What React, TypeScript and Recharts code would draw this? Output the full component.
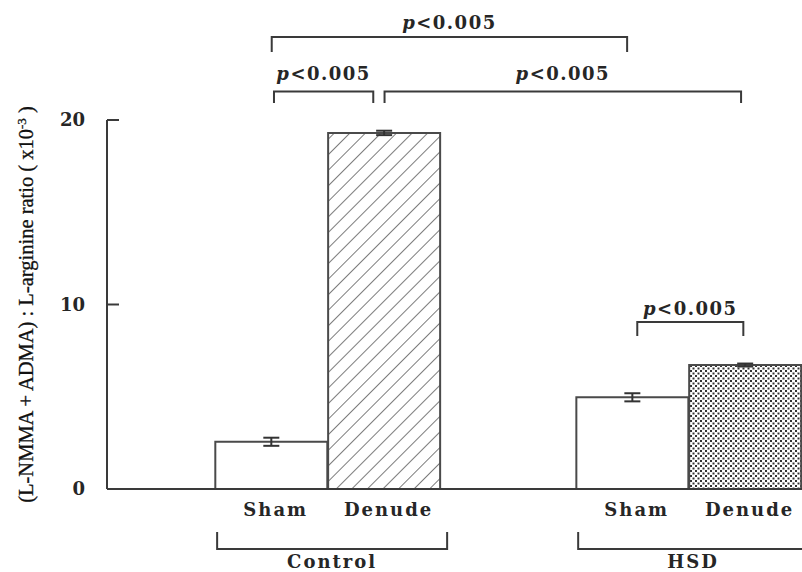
import React from 'react';
import { BarChart, Bar, Cell, XAxis, YAxis, ErrorBar, ReferenceLine } from 'recharts';

// values
const groups = ['Control', 'HSD'];
const conditions = ['Sham', 'Denude'];
const controlMeans = [2.56, 19.3];
const controlErr = [0.22, 0.12];
const hsdMeans = [4.97, 6.72];
const hsdErr = [0.22, 0.08];
const yTicks = [0, 10, 20];
// bar index pairs: 0 Control Sham, 1 Control Denude, 2 HSD Sham, 3 HSD Denude
const comparisons = [[0, 2], [0, 1], [1, 3], [2, 3]];
const pLabels = ['p<0.005', 'p<0.005', 'p<0.005', 'p<0.005'];

// layout
const GROUP_STEP = 3.2;
const X_DOMAIN: [number, number] = [-0.46, 5.7];
const INK = '#3a3a3a';
const TEXT = '#262626';
const BOLD_SERIF = '"DejaVu Serif", serif';
const fills = ['#ffffff', 'url(#hatch)', '#ffffff', 'url(#dots)'];
const bracketLevel = [24.5, 21.54, 21.54, 9.05];
const bracketLeg = [15, 11.5, 11.5, 14];
const bracketGap = [8, 12, 12, 7];
const bracketTrim = [[0, 0.05], [0.02, 0.1], [0, 0.04], [0.04, 0.02]];

const means = [controlMeans, hsdMeans];
const errs = [controlErr, hsdErr];
const rows = groups.flatMap((g, gi) =>
  conditions.map((c, ci) => ({
    group: g,
    condition: c,
    pos: gi * GROUP_STEP + ci + 1,
    value: means[gi][ci],
    err: errs[gi][ci],
  }))
);
const groupCenters = groups.map((_, gi) => gi * GROUP_STEP + 1.5);

const CondTick = ({ x, y, payload }: any) => {
  const row = rows.find((r) => Math.abs(r.pos - payload.value) < 1e-6);
  return (
    <text x={x + 4} y={y} dy={13} textAnchor="middle" fontFamily={BOLD_SERIF} fontWeight="bold"
      fontSize={18} letterSpacing={2} fill={TEXT}>
      {row ? row.condition : ''}
    </text>
  );
};

const GroupTick = ({ x, y, payload }: any) => {
  const gi = groupCenters.findIndex((c) => Math.abs(c - payload.value) < 1e-6);
  const left = x - 111;
  const right = x + 119;
  return (
    <g>
      <path d={`M${left},${y + 3}V${y + 20}H${right}V${y + 3}`} fill="none" stroke={INK} strokeWidth={2} />
      <text x={x + 4} y={y + 39} textAnchor="middle" fontFamily={BOLD_SERIF} fontWeight="bold"
        fontSize={18} letterSpacing={2} fill={TEXT}>
        {groups[gi]}
      </text>
    </g>
  );
};

const YTick = ({ x, y, payload }: any) => (
  <g>
    <line x1={x} x2={x + 12} y1={y} y2={y} stroke={INK} strokeWidth={2} />
    <text x={x - 22} y={y} dy={6} textAnchor="end" fontFamily={BOLD_SERIF} fontWeight="bold"
      fontSize={18} fill={TEXT}>
      {payload.value}
    </text>
  </g>
);

const YTitle = (props: any) => {
  const vb = props.viewBox || { x: 47, y: 120, width: 60, height: 369 };
  const cx = vb.x - 14;
  const cy = vb.y + vb.height / 2;
  return (
    <text x={cx} y={cy} transform={`rotate(-90 ${cx} ${cy})`} textAnchor="middle"
      fontFamily='"Liberation Serif", serif' fontSize={20.5} fill="#111" stroke="#111" strokeWidth={0.3}>
      (L-NMMA + ADMA) : L-arginine ratio ( x10
      <tspan dy={-7} fontSize={13}>-3</tspan>
      <tspan dy={7}> )</tspan>
    </text>
  );
};

const bracketShape = (i: number) => (props: any) => {
  const { x1, y1, x2 } = props;
  const label = pLabels[i];
  return (
    <g>
      <path d={`M${x1},${y1 + bracketLeg[i]}V${y1}H${x2}V${y1 + bracketLeg[i]}`} fill="none"
        stroke={INK} strokeWidth={2} />
      <text x={(x1 + x2) / 2} y={y1 - bracketGap[i]} textAnchor="middle" fontFamily={BOLD_SERIF}
        fontWeight="bold" fontSize={18} letterSpacing={1.5} fill={TEXT}>
        <tspan fontStyle="italic">{label.charAt(0)}</tspan>
        {label.slice(1)}
      </text>
    </g>
  );
};

export default function App() {
  return (
    <div style={{ position: 'absolute', left: 0, top: 0, width: 802, height: 572, overflow: 'hidden', background: '#fff' }}>
      <BarChart width={802} height={572} data={rows} margin={{ top: 120, right: 0, bottom: 0, left: 47 }}>
        <defs>
          <pattern id="hatch" patternUnits="userSpaceOnUse" width={11} height={11} patternTransform="rotate(45)">
            <rect width={11} height={11} fill="#fff" />
            <line x1={0} y1={0} x2={0} y2={11} stroke="#444" strokeWidth={1.4} />
          </pattern>
          <pattern id="dots" patternUnits="userSpaceOnUse" width={5} height={5}>
            <rect width={5} height={5} fill="#fff" />
            <rect x={0} y={0} width={2} height={2} fill="#333" />
            <rect x={2.5} y={2.5} width={2} height={2} fill="#333" />
          </pattern>
        </defs>
        <XAxis type="number" dataKey="pos" domain={X_DOMAIN} allowDataOverflow ticks={rows.map((r) => r.pos)}
          tick={<CondTick />} tickLine={false} tickSize={0} tickMargin={14} height={40}
          axisLine={{ stroke: INK, strokeWidth: 2 }} />
        <XAxis xAxisId="group" type="number" dataKey="pos" domain={X_DOMAIN} allowDataOverflow ticks={groupCenters}
          tick={<GroupTick />} tickLine={false} axisLine={false} tickSize={0} tickMargin={0} height={43} />
        <YAxis type="number" domain={[0, 20]} ticks={yTicks} allowDataOverflow width={60} tick={<YTick />}
          tickLine={false} tickSize={0} tickMargin={0} axisLine={{ stroke: INK, strokeWidth: 2 }} label={YTitle} />
        <Bar dataKey="value" barSize={112} stroke="#4a4a4a" strokeWidth={2} isAnimationActive={false}>
          {rows.map((r, i) => (
            <Cell key={r.group + r.condition} fill={fills[i]} />
          ))}
          <ErrorBar dataKey="err" width={8} strokeWidth={2} stroke="#333" isAnimationActive={false} />
        </Bar>
        {comparisons.map(([a, b], i) => (
          <ReferenceLine key={i} ifOverflow="visible"
            segment={[
              { x: rows[a].pos + bracketTrim[i][0], y: bracketLevel[i] },
              { x: rows[b].pos - bracketTrim[i][1], y: bracketLevel[i] },
            ]}
            shape={bracketShape(i)} />
        ))}
      </BarChart>
    </div>
  );
}
